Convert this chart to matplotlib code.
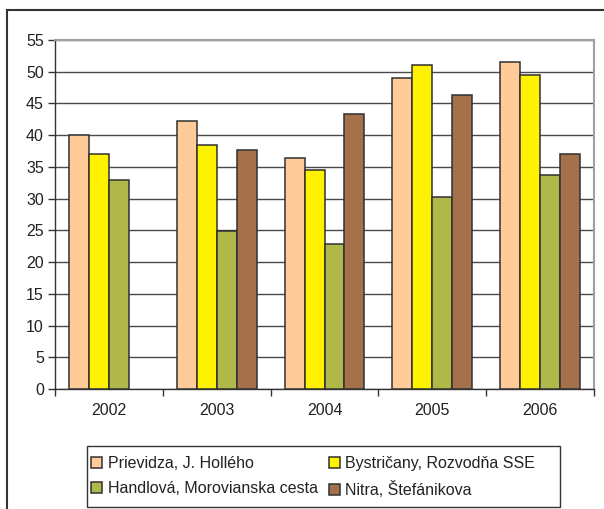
import matplotlib
matplotlib.use("Agg")
import matplotlib.pyplot as plt
from matplotlib.lines import Line2D
from matplotlib.patches import Rectangle
import numpy as np

plt.rcParams['font.family'] = ['Liberation Sans', 'DejaVu Sans']

years = ['2002', '2003', '2004', '2005', '2006']
stations = ['Prievidza, J. Hollého', 'Bystričany, Rozvodňa SSE',
            'Handlová, Morovianska cesta', 'Nitra, Štefánikova']
prievidza = [40.0, 42.2, 36.4, 49.0, 51.6]
bystricany = [37.0, 38.4, 34.5, 51.1, 49.5]
handlova = [33.0, 24.9, 22.8, 30.2, 33.8]
nitra = [np.nan, 37.6, 43.4, 46.3, 37.1]
series = [prievidza, bystricany, handlova, nitra]
colors = ['#FFCC99', '#FFF200', '#B1B84A', '#A5714A']

W, H = 604, 509
fig = plt.figure(figsize=(W / 100, H / 100), dpi=100)

# outer frame of the chart area (left and top edges only)
fig.add_artist(Line2D([7 / W, 7 / W], [0, 1 - 10 / H], color='#333333', lw=1.5))
fig.add_artist(Line2D([7 / W, 1], [1 - 10 / H, 1 - 10 / H], color='#333333', lw=1.5))

left, right, top, bottom = 55, 594, 40, 389
ax = fig.add_axes([left / W, 1 - bottom / H, (right - left) / W, (bottom - top) / H])

x = np.arange(len(years))
bw = 0.185
bars = []
for i, (vals, c) in enumerate(zip(series, colors)):
    b = ax.bar(x + (i - 1.5) * bw, vals, bw, color=c, edgecolor='#303030',
               linewidth=1.1, zorder=3, label=stations[i])
    bars.append(b)

ax.set_xlim(-0.5, len(years) - 0.5)
ax.set_ylim(0, 55)
ax.set_yticks(np.arange(0, 56, 5))
ax.yaxis.grid(True, color='#4a4a4a', lw=1.0, zorder=0)
ax.set_axisbelow(True)

ax.set_xticks(np.arange(-0.5, len(years), 1.0))
ax.set_xticklabels([])
ax.set_xticks(x, minor=True)
ax.set_xticklabels(years, minor=True)
ax.tick_params(axis='x', which='minor', length=0, pad=10, labelsize=11.5, labelcolor='#222222')
ax.tick_params(axis='x', which='major', length=5, width=1, color='#333333', direction='out')
ax.tick_params(axis='y', length=5, width=1, color='#333333', direction='out',
               labelsize=11.5, labelcolor='#222222', pad=3)

for s in ['top', 'right']:
    ax.spines[s].set_color('#a0a0a0')
    ax.spines[s].set_linewidth(1.5)
for s in ['left', 'bottom']:
    ax.spines[s].set_color('#333333')
    ax.spines[s].set_linewidth(1.0)

# legend box drawn separately, entries filled row by row
lx0, ly0, lx1, ly1 = 87, 446, 560, 507
fig.add_artist(Rectangle((lx0 / W, 1 - ly1 / H), (lx1 - lx0) / W, (ly1 - ly0) / H,
                         transform=fig.transFigure, fill=False,
                         edgecolor='#333333', lw=1.0))
order = [0, 2, 1, 3]
leg = fig.legend(handles=[bars[k] for k in order], labels=[stations[k] for k in order],
                 ncol=2, loc='upper left', bbox_to_anchor=(91 / W, 1 - 456 / H),
                 frameon=False, fontsize=11.5, handlelength=0.7, handleheight=0.7,
                 handletextpad=0.35, borderaxespad=0, borderpad=0,
                 labelspacing=0.62, columnspacing=0.68)
for t in leg.get_texts():
    t.set_color('#222222')

fig.savefig('out.png', dpi=100, facecolor='white')
